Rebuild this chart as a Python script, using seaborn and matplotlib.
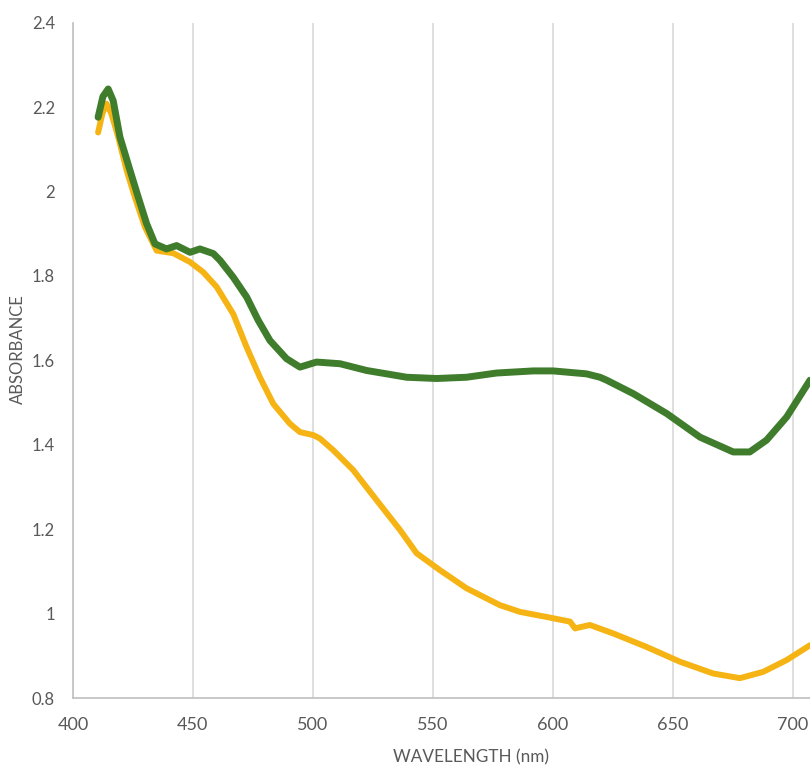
import matplotlib
matplotlib.use('Agg')
import matplotlib.pyplot as plt
import seaborn as sns
import pandas as pd
from matplotlib.ticker import FuncFormatter

# values
green_nm = [410.5, 412.5, 414.7, 416.8, 419.6, 423.8, 427.2, 430.7, 434.2, 439.0,
            443.2, 448.8, 452.9, 458.5, 461.3, 466.8, 472.4, 477.2, 482.1, 489.0,
            494.6, 501.5, 511.3, 522.4, 534.9, 539.0, 551.5, 564.0, 576.5, 591.8,
            600.1, 614.0, 619.6, 622.4, 633.5, 647.4, 661.3, 675.1, 682.0, 689.0,
            697.4, 707.1]
green_abs = [2.176, 2.225, 2.243, 2.215, 2.129, 2.050, 1.987, 1.924, 1.876, 1.864,
             1.872, 1.856, 1.864, 1.853, 1.837, 1.797, 1.750, 1.695, 1.647, 1.604,
             1.584, 1.596, 1.592, 1.576, 1.564, 1.560, 1.557, 1.560, 1.570, 1.575,
             1.575, 1.568, 1.560, 1.553, 1.521, 1.474, 1.418, 1.383, 1.383, 1.411,
             1.466, 1.553]

yellow_nm = [410.5, 412.3, 414.0, 416.0, 418.9, 422.4, 425.8, 430.0, 434.9, 441.8,
             448.8, 454.3, 459.9, 466.8, 472.4, 477.9, 483.5, 490.4, 494.6, 500.1,
             502.9, 508.5, 516.8, 526.5, 536.3, 543.2, 552.9, 564.0, 577.9, 586.3,
             597.4, 607.1, 609.2, 615.4, 625.1, 639.0, 652.9, 666.8, 677.9, 687.6,
             697.4, 707.1]
yellow_abs = [2.140, 2.185, 2.208, 2.185, 2.129, 2.050, 1.987, 1.916, 1.860, 1.854,
              1.833, 1.809, 1.774, 1.710, 1.631, 1.560, 1.497, 1.450, 1.430, 1.423,
              1.415, 1.387, 1.340, 1.269, 1.198, 1.143, 1.103, 1.060, 1.020, 1.004,
              0.992, 0.981, 0.965, 0.973, 0.953, 0.921, 0.886, 0.858, 0.847, 0.862,
              0.890, 0.925]

x_ticks = [400, 450, 500, 550, 600, 650, 700]
y_ticks = [0.8, 1.0, 1.2, 1.4, 1.6, 1.8, 2.0, 2.2, 2.4]

df = pd.concat([
    pd.DataFrame({'nm': yellow_nm, 'abs': yellow_abs, 'sample': 'yellow'}),
    pd.DataFrame({'nm': green_nm, 'abs': green_abs, 'sample': 'green'}),
])

sns.set_style('white')
plt.rcParams['font.family'] = ['Lato', 'DejaVu Sans']

fig = plt.figure(figsize=(8.1, 7.7), dpi=100)
ax = fig.add_axes([0.09, 0.0935, 0.91, 0.877])

palette = {'yellow': '#f5b414', 'green': '#3f7d2c'}
widths = {'yellow': 4.3, 'green': 5.0}
for name in ['yellow', 'green']:
    sns.lineplot(data=df[df['sample'] == name], x='nm', y='abs', color=palette[name],
                 linewidth=widths[name], sort=False, ax=ax,
                 solid_capstyle='round', solid_joinstyle='round')

ax.set_xlim(400, 707.1)
ax.set_ylim(0.8, 2.4)
ax.set_xticks(x_ticks)
ax.set_yticks(y_ticks)
ax.yaxis.set_major_formatter(FuncFormatter(lambda v, p: f'{v:g}'))

ax.grid(True, axis='x', color='#d9d9d9', linewidth=1.2)
ax.grid(False, axis='y')
ax.set_axisbelow(True)
for s in ['top', 'right']:
    ax.spines[s].set_visible(False)
for s in ['left', 'bottom']:
    ax.spines[s].set_color('#bfbfbf')
    ax.spines[s].set_linewidth(1.2)

ax.tick_params(axis='x', length=0, pad=14, labelsize=13, labelcolor='#595959')
ax.tick_params(axis='y', length=0, pad=13, labelsize=12, labelcolor='#595959')

ax.set_xlabel('WAVELENGTH (nm)', fontsize=12.3, color='#595959', va='center')
ax.set_ylabel('ABSORBANCE', fontsize=12, color='#595959', va='center')
ax.xaxis.set_label_coords(0.54, -0.088)
ax.yaxis.set_label_coords(-0.075, 0.516)

plt.savefig('out.png', dpi=100)
